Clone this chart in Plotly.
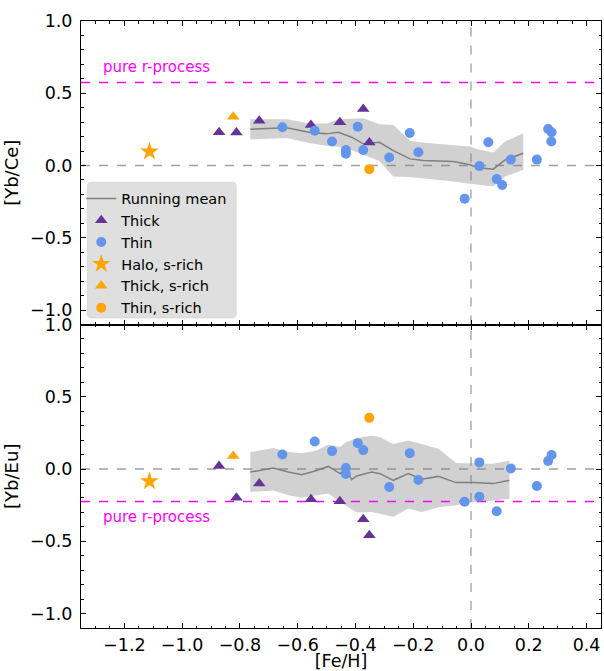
import plotly.graph_objects as go
from plotly.subplots import make_subplots

# ---------------- data ----------------
# Thick disc stars
thick_feh = [-0.872, -0.812, -0.733, -0.554, -0.454, -0.373, -0.352]
thick_ybce = [0.230, 0.228, 0.310, 0.281, 0.299, 0.391, 0.159]
thick_ybeu = [0.021, -0.198, -0.101, -0.209, -0.223, -0.348, -0.458]

# Thin disc stars, [Yb/Ce]
thin_feh_ce = [-0.653, -0.541, -0.481, -0.392, -0.433, -0.433, -0.373, -0.283,
               -0.212, -0.182, -0.022, 0.029, 0.060, 0.089, 0.108, 0.138,
               0.228, 0.267, 0.279, 0.278]
thin_ybce = [0.265, 0.241, 0.166, 0.269, 0.108, 0.081, 0.108, 0.055,
             0.225, 0.092, -0.230, -0.004, 0.161, -0.094, -0.135, 0.041,
             0.041, 0.253, 0.230, 0.166]

# Thin disc stars, [Yb/Eu]
thin_feh_eu = [-0.653, -0.541, -0.481, -0.392, -0.373, -0.433, -0.433, -0.283,
               -0.212, -0.182, -0.022, 0.029, 0.029, 0.089, 0.138, 0.228,
               0.267, 0.279]
thin_ybeu = [0.101, 0.190, 0.124, 0.179, 0.131, 0.007, -0.035, -0.124,
             0.110, -0.076, -0.226, 0.046, -0.191, -0.292, 0.004, -0.117,
             0.055, 0.097]

# s-rich stars
halo_s_feh = [-1.113]
halo_s_ybce = [0.097]
halo_s_ybeu = [-0.085]
thick_s_feh = [-0.823]
thick_s_ybce = [0.338]
thick_s_ybeu = [0.090]
thin_s_feh = [-0.352]
thin_s_ybce = [-0.025]
thin_s_ybeu = [0.354]

# Running mean and 1-sigma band, [Yb/Ce]
rm_ce_feh = [-0.764, -0.638, -0.557, -0.499, -0.459, -0.413, -0.373, -0.317, -0.269,
             -0.211, -0.165, -0.061, -0.003, 0.020, 0.077, 0.118, 0.181]
rm_ce_mean = [0.251, 0.262, 0.228, 0.219, 0.230, 0.196, 0.150, 0.161, 0.103,
              0.046, 0.035, 0.028, 0.005, -0.014, -0.025, 0.039, 0.085]
rm_ce_hi = [0.320, 0.320, 0.290, 0.290, 0.320, 0.325, 0.327, 0.285, 0.280,
            0.170, 0.159, 0.140, 0.131, 0.115, 0.090, 0.166, 0.223]
rm_ce_lo = [0.180, 0.190, 0.154, 0.136, 0.130, 0.105, 0.074, 0.032, -0.076,
            -0.080, -0.090, -0.110, -0.126, -0.135, -0.145, -0.076, -0.030]

# Running mean and 1-sigma band, [Yb/Eu]
rm_eu_feh = [-0.764, -0.684, -0.632, -0.586, -0.534, -0.494, -0.453, -0.433, -0.413,
             -0.396, -0.344, -0.315, -0.269, -0.217, -0.171, -0.113, -0.052, 0.008,
             0.077, 0.133]
rm_eu_mean = [-0.021, 0.007, -0.021, -0.039, -0.010, 0.018, -0.032, 0.007, -0.074,
              -0.048, -0.021, -0.032, -0.078, -0.032, -0.071, -0.051, -0.094, -0.094,
              -0.101, -0.078]
rm_eu_hi = [0.117, 0.145, 0.117, 0.110, 0.128, 0.170, 0.152, 0.186, 0.200,
            0.215, 0.230, 0.220, 0.174, 0.197, 0.174, 0.140, 0.041, 0.041,
            0.037, 0.059]
rm_eu_lo = [-0.159, -0.148, -0.182, -0.198, -0.182, -0.170, -0.228, -0.251, -0.280,
            -0.301, -0.297, -0.310, -0.331, -0.274, -0.297, -0.265, -0.251, -0.228,
            -0.217, -0.205]

# Pure r-process ratios
r_ybce = 0.575
r_ybeu = -0.225

# Axis limits
feh_range = [-1.35, 0.45]
ratio_range = [-1.1, 1.0]

# ---------------- style ----------------
PURPLE = "#663399"
BLUE = "#6495ED"
ORANGE = "#FFA500"
FONT = "DejaVu Sans"

fig = make_subplots(rows=2, cols=1, shared_xaxes=True, vertical_spacing=0)


def add_panel(row, rm_x, rm_mean, rm_hi, rm_lo, y_thick, thin_x, thin_y,
              y_halo_s, y_thick_s, y_thin_s, r_val, legend):
    # solar reference lines
    fig.add_trace(go.Scatter(
        x=feh_range, y=[0, 0], mode="lines", showlegend=False, hoverinfo="skip",
        line=dict(color="#a0a0a0", width=1.3, dash="dash")), row=row, col=1)
    fig.add_trace(go.Scatter(
        x=[0, 0], y=ratio_range, mode="lines", showlegend=False, hoverinfo="skip",
        line=dict(color="#a0a0a0", width=1.3, dash="dash")), row=row, col=1)
    # 1-sigma band around the running mean
    fig.add_trace(go.Scatter(
        x=rm_x + rm_x[::-1], y=rm_hi + rm_lo[::-1], fill="toself",
        fillcolor="rgba(128,128,128,0.36)", line=dict(width=0),
        mode="lines", showlegend=False, hoverinfo="skip"), row=row, col=1)
    # pure r-process level
    fig.add_trace(go.Scatter(
        x=feh_range, y=[r_val, r_val], mode="lines", showlegend=False,
        hoverinfo="skip", line=dict(color="#FF00FF", width=1.5, dash="dash")),
        row=row, col=1)
    fig.add_trace(go.Scatter(
        x=rm_x, y=rm_mean, mode="lines", name="Running mean",
        line=dict(color="#808080", width=1.5), showlegend=legend), row=row, col=1)
    fig.add_trace(go.Scatter(
        x=thick_feh, y=y_thick, mode="markers", name="Thick",
        marker=dict(symbol="triangle-up", size=11, color=PURPLE),
        showlegend=legend), row=row, col=1)
    fig.add_trace(go.Scatter(
        x=thin_x, y=thin_y, mode="markers", name="Thin",
        marker=dict(symbol="circle", size=10, color=BLUE),
        showlegend=legend), row=row, col=1)
    fig.add_trace(go.Scatter(
        x=halo_s_feh, y=y_halo_s, mode="markers", name="Halo, s-rich",
        marker=dict(symbol="star", size=14, color=ORANGE),
        showlegend=legend), row=row, col=1)
    fig.add_trace(go.Scatter(
        x=thick_s_feh, y=y_thick_s, mode="markers", name="Thick, s-rich",
        marker=dict(symbol="triangle-up", size=11, color=ORANGE),
        showlegend=legend), row=row, col=1)
    fig.add_trace(go.Scatter(
        x=thin_s_feh, y=y_thin_s, mode="markers", name="Thin, s-rich",
        marker=dict(symbol="circle", size=10, color=ORANGE),
        showlegend=legend), row=row, col=1)


add_panel(1, rm_ce_feh, rm_ce_mean, rm_ce_hi, rm_ce_lo, thick_ybce,
          thin_feh_ce, thin_ybce, halo_s_ybce, thick_s_ybce, thin_s_ybce,
          r_ybce, True)
add_panel(2, rm_eu_feh, rm_eu_mean, rm_eu_hi, rm_eu_lo, thick_ybeu,
          thin_feh_eu, thin_ybeu, halo_s_ybeu, thick_s_ybeu, thin_s_ybeu,
          r_ybeu, False)

# rounded legend frame
lx0, lx1, ly0, ly1, rr = 0.0121, 0.2985, 0.5107, 0.7345, 0.008
ry = rr * 520.3 / 607.6
shapes = [dict(
    type="path", xref="paper", yref="paper", layer="above",
    path=(f"M {lx0 + rr},{ly0} L {lx1 - rr},{ly0} Q {lx1},{ly0} {lx1},{ly0 + ry} "
          f"L {lx1},{ly1 - ry} Q {lx1},{ly1} {lx1 - rr},{ly1} "
          f"L {lx0 + rr},{ly1} Q {lx0},{ly1} {lx0},{ly1 - ry} "
          f"L {lx0},{ly0 + ry} Q {lx0},{ly0} {lx0 + rr},{ly0} Z"),
    fillcolor="rgba(220,220,220,0.9)",
    line=dict(color="rgba(200,200,200,0.6)", width=0.8))]

annotations = [
    dict(text="pure r-process", x=-1.28, y=0.68, xref="x", yref="y",
         xanchor="left", yanchor="middle", showarrow=False,
         font=dict(family=FONT, size=15, color="#FF00FF")),
    dict(text="pure r-process", x=-1.28, y=-0.335, xref="x2", yref="y2",
         xanchor="left", yanchor="middle", showarrow=False,
         font=dict(family=FONT, size=15, color="#FF00FF")),
]

axis_common = dict(
    showline=True, linecolor="black", linewidth=1, mirror="allticks",
    ticks="inside", ticklen=5, tickwidth=1, tickcolor="black",
    showgrid=False, zeroline=False, automargin=False,
    tickfont=dict(family=FONT, size=17.5, color="black"),
    minor=dict(ticks="inside", ticklen=2.5, tickwidth=0.8, tickcolor="black"),
)

xaxis_cfg = dict(axis_common, range=feh_range, tickmode="linear", tick0=0,
                 dtick=0.2, tickformat=".1f")
xaxis_cfg["minor"] = dict(axis_common["minor"], dtick=0.05)
yaxis_cfg = dict(axis_common, range=ratio_range, tickmode="linear", tick0=0,
                 dtick=0.5, tickformat=".1f")
yaxis_cfg["minor"] = dict(axis_common["minor"], dtick=0.1)

fig.update_xaxes(**xaxis_cfg)
fig.update_xaxes(showticklabels=False, row=1, col=1)
fig.update_xaxes(title=dict(text="[Fe/H]", standoff=6,
                            font=dict(family=FONT, size=17.5, color="black")),
                 ticklabelstandoff=1, row=2, col=1)
fig.update_yaxes(**yaxis_cfg)
fig.update_yaxes(title=dict(text="[Yb/Ce]", standoff=6,
                            font=dict(family=FONT, size=18, color="black")),
                 ticklabelstandoff=4, row=1, col=1)
fig.update_yaxes(title=dict(text="[Yb/Eu]", standoff=6,
                            font=dict(family=FONT, size=18, color="black")),
                 ticklabelstandoff=4, row=2, col=1)

fig.update_layout(
    width=604, height=671,
    margin=dict(l=80.7, r=3, t=20.7, b=42.7),
    paper_bgcolor="white", plot_bgcolor="white",
    font=dict(family=FONT, color="black"),
    shapes=shapes, annotations=annotations,
    legend=dict(x=0.0005, y=0.734, xanchor="left", yanchor="top",
                bgcolor="rgba(0,0,0,0)", borderwidth=0,
                font=dict(family=FONT, size=14.5, color="black"),
                tracegroupgap=0, itemwidth=30),
)

fig.write_html("out.html")
